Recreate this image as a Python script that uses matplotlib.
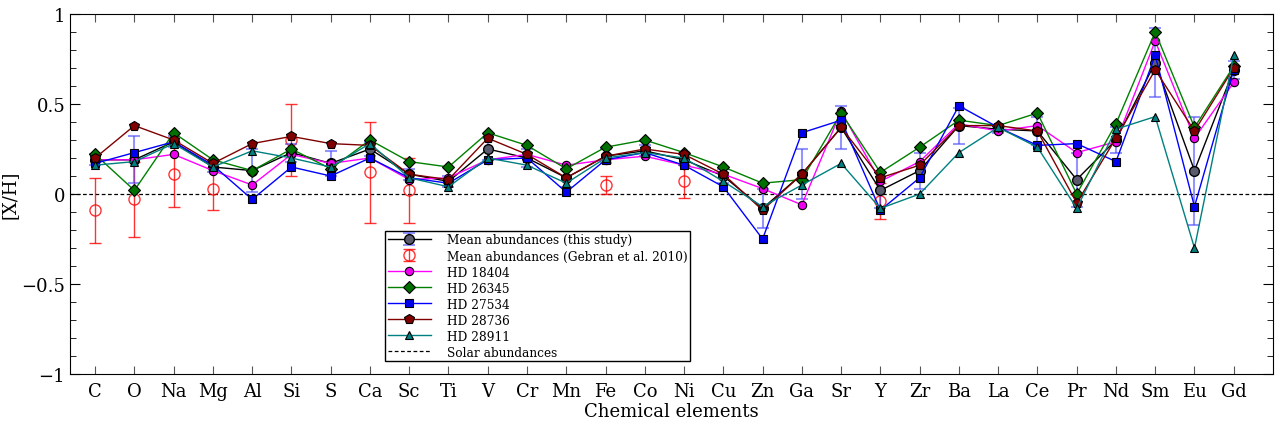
import numpy as np
import matplotlib
matplotlib.use("Agg")
import matplotlib.pyplot as plt
from matplotlib.ticker import MultipleLocator

plt.rcParams['font.family'] = ['DejaVu Serif']
plt.rcParams['mathtext.default'] = 'regular'

elements = ["C", "O", "Na", "Mg", "Al", "Si", "S", "Ca", "Sc", "Ti", "V", "Cr", "Mn", "Fe",
            "Co", "Ni", "Cu", "Zn", "Ga", "Sr", "Y", "Zr", "Ba", "La", "Ce", "Pr", "Nd", "Sm",
            "Eu", "Gd"]

mean_vals = [0.19, 0.19, 0.29, 0.15, 0.13, 0.23, 0.17, 0.25, 0.11, 0.07, 0.25, 0.20, 0.09, 0.21,
             0.24, 0.19, 0.10, -0.08, 0.11, 0.37, 0.02, 0.13, 0.38, 0.36, 0.35, 0.08, 0.30, 0.73,
             0.13, 0.69]
mean_err = [0.03, 0.13, 0.03, 0.03, 0.12, 0.05, 0.07, 0.04, 0.03, 0.03, 0.06, 0.05, 0.05, 0.04,
            0.03, 0.03, 0.04, 0.11, 0.14, 0.12, 0.10, 0.10, 0.10, 0.02, 0.08, 0.15, 0.07, 0.19,
            0.30, 0.05]

nan = np.nan
gebran_vals = [-0.09, -0.03, 0.11, 0.03, nan, 0.30, nan, 0.12, 0.02, nan, nan, nan, nan, 0.05,
               nan, 0.07, nan, nan, nan, nan, -0.04, nan, nan, nan, nan, nan, nan, nan, nan, nan]
gebran_err = [0.18, 0.21, 0.18, 0.12, nan, 0.20, nan, 0.28, 0.18, nan, nan, nan, nan, 0.05,
              nan, 0.09, nan, nan, nan, nan, 0.10, nan, nan, nan, nan, nan, nan, nan, nan, nan]

hd18404 = [0.19, 0.19, 0.22, 0.13, 0.05, 0.22, 0.17, 0.20, 0.08, 0.09, 0.19, 0.22, 0.16, 0.19,
           0.21, 0.16, 0.11, 0.03, -0.06, 0.46, 0.07, 0.18, 0.39, 0.35, 0.38, 0.23, 0.29, 0.85,
           0.31, 0.62]
hd26345 = [0.22, 0.02, 0.34, 0.19, 0.13, 0.25, 0.14, 0.30, 0.18, 0.15, 0.34, 0.27, 0.14, 0.26,
           0.30, 0.23, 0.15, 0.06, 0.08, 0.45, 0.12, 0.26, 0.41, 0.38, 0.45, 0.00, 0.39, 0.90,
           0.37, 0.71]
hd27534 = [0.17, 0.23, 0.29, 0.16, -0.03, 0.15, 0.10, 0.20, 0.09, 0.06, 0.19, 0.20, 0.01, 0.19,
           0.23, 0.16, 0.04, -0.25, 0.34, 0.41, -0.09, 0.09, 0.49, 0.37, 0.27, 0.28, 0.18, 0.77,
           -0.07, 0.69]
hd28736 = [0.20, 0.38, 0.30, 0.17, 0.28, 0.32, 0.28, 0.27, 0.11, 0.08, 0.31, 0.22, 0.09, 0.21,
           0.25, 0.22, 0.11, -0.09, 0.11, 0.37, 0.09, 0.16, 0.38, 0.38, 0.35, -0.05, 0.31, 0.69,
           0.35, 0.70]
hd28911 = [0.16, 0.18, 0.28, 0.15, 0.24, 0.20, 0.15, 0.28, 0.09, 0.04, 0.20, 0.16, 0.06, 0.20,
           0.23, 0.20, 0.07, -0.07, 0.05, 0.17, -0.08, 0.00, 0.23, 0.37, 0.26, -0.08, 0.36, 0.43,
           -0.30, 0.77]

x = np.arange(len(elements))

fig = plt.figure(figsize=(12.78, 4.27), dpi=100)
ax = fig.add_axes([70/1278, 1 - 375/427, (1273-70)/1278, (375-15)/427])

handles = []
h_mean = ax.errorbar(x, mean_vals, yerr=mean_err, color='black', lw=1.0, marker='o', ms=7,
                     mfc='#5a5a6e', mec='black', ecolor=(0.3, 0.3, 1.0, 0.6), elinewidth=1.5,
                     capsize=4, capthick=1.5, label='Mean abundances (this study)', zorder=2.5)
h_geb = ax.errorbar(x, gebran_vals, yerr=gebran_err, color='red', ls='none', marker='o', ms=8,
                    mfc='none', mec='red', ecolor='red', elinewidth=1.0, capsize=4, capthick=1.0,
                    alpha=0.8, label='Mean abundances (Gebran et al. 2010)', zorder=2)
handles += [h_mean, h_geb]

series = [
    (hd18404, 'HD 18404', '#ff00ff', '#ee00ee', 'o', 6),
    (hd26345, 'HD 26345', '#008000', '#007000', 'D', 6),
    (hd27534, 'HD 27534', '#0000ff', '#0000ee', 's', 6),
    (hd28736, 'HD 28736', '#800000', '#800000', 'p', 7),
    (hd28911, 'HD 28911', '#008080', '#008080', '^', 6),
]
for vals, lab, c, fc, m, ms in series:
    h, = ax.plot(x, vals, color=c, lw=1.0, marker=m, ms=ms, mfc=fc, mec='black', mew=0.8,
                 label=lab, zorder=3)
    handles.append(h)

h_sol = ax.axhline(0, color='black', ls='--', lw=0.9, dashes=(3, 2), label='Solar abundances',
                   zorder=1)
handles.append(h_sol)

ax.set_xlim(-0.64, 30.0)
ax.set_ylim(-1, 1)
ax.set_xticks(x)
ax.set_xticklabels(elements, fontsize=13)
ax.yaxis.set_minor_locator(MultipleLocator(0.1))
ax.set_yticks([-1, -0.5, 0, 0.5, 1])
ax.set_yticklabels(['\u22121', '\u22120.5', '0', '0.5', '1'], fontsize=13)
ax.tick_params(axis='both', which='both', direction='in', top=True, right=True)
ax.tick_params(axis='x', which='major', length=6, color='#555555', pad=6)
ax.tick_params(axis='y', which='major', length=7)
ax.tick_params(axis='y', which='minor', length=4)
ax.set_xlabel('Chemical elements', fontsize=13, labelpad=1)
ax.set_ylabel('[X/H]', fontsize=13)
ax.yaxis.set_label_coords(-0.043, 0.5)

leg = ax.legend(handles=handles, labels=[h.get_label() for h in handles],
                loc='lower left', bbox_to_anchor=(0.262, 0.036), fontsize=8.7,
                fancybox=False, edgecolor='black', framealpha=1, borderpad=0.2,
                labelspacing=0.25, handlelength=3.6, handletextpad=1.3, borderaxespad=0)
leg.get_frame().set_linewidth(1.0)

fig.savefig('out.png', dpi=100)
